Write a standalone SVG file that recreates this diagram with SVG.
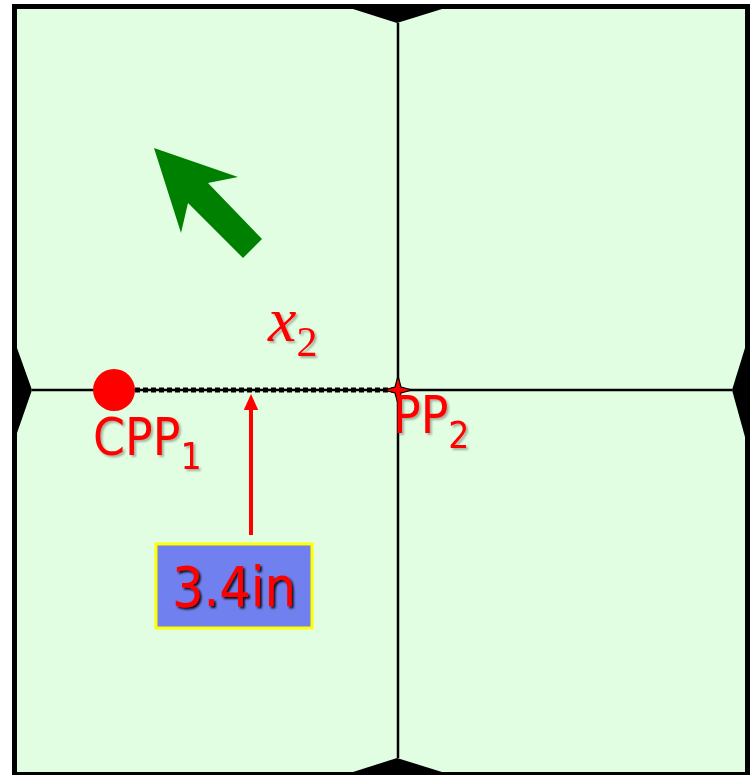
<svg xmlns="http://www.w3.org/2000/svg" width="755" height="775" viewBox="0 0 755 775">
<defs>
<style>
.lbl{font-family:"DejaVu Sans Condensed","DejaVu Sans",sans-serif;fill:#ff0000;}
.math{font-family:"Liberation Serif",serif;fill:#ff0000;}
</style>
<filter id="sh" x="-10%" y="-10%" width="130%" height="130%">
<feDropShadow dx="2" dy="2" stdDeviation="1" flood-color="#000" flood-opacity="0.3"/>
</filter>
<filter id="shd" x="-10%" y="-10%" width="130%" height="130%">
<feDropShadow dx="2" dy="2" stdDeviation="0.8" flood-color="#000" flood-opacity="0.9"/>
</filter>
<marker id="ah" markerWidth="4" markerHeight="3.6" refX="0.5" refY="1.8" orient="auto" markerUnits="strokeWidth">
<path d="M0,0 L4,1.8 L0,3.6 z" fill="#ff0000"/>
</marker>
</defs>
<rect x="0" y="0" width="755" height="775" fill="#ffffff"/>
<g id="frame">
<rect x="14.5" y="6.5" width="733" height="768" fill="#e2fee2" stroke="#000" stroke-width="5"/>
<polygon points="353,9 397,23 442,9" fill="#000"/>
<polygon points="353,772 397,758 442,772" fill="#000"/>
<polygon points="17,348 32,390 17,433" fill="#000"/>
<polygon points="745,348 732,390 745,437" fill="#000"/>
</g>
<g id="connectors">
<line x1="32" y1="390" x2="732" y2="390" stroke="#000" stroke-width="2.5"/>
<line x1="398" y1="23" x2="398" y2="758" stroke="#000" stroke-width="2.5"/>
<line x1="135" y1="390" x2="398" y2="390" stroke="#000" stroke-width="5" stroke-dasharray="5 3"/>
<line x1="251" y1="535" x2="251" y2="408" stroke="#ff0000" stroke-width="4" marker-end="url(#ah)"/>
</g>
<g id="arrow-green">
<polygon points="154,148 238,177 208,183 262,239 243,258 188,203 181,233" fill="#008000"/>
</g>
<g id="cpp1">
<circle cx="114" cy="390" r="21" fill="#ff0000"/>
<text class="lbl" x="93" y="455" font-size="51" filter="url(#sh)">CPP<tspan font-size="37" dy="14">1</tspan></text>
</g>
<g id="pp2">
<polygon points="398,376 401,387 412,390 401,393 398,404 395,393 384,390 395,387" fill="#ff0000" stroke="#000" stroke-width="1.2"/>
<text class="lbl" x="393" y="433" font-size="51" filter="url(#sh)">PP<tspan font-size="37" dy="15">2</tspan></text>
</g>
<g id="x2">
<text class="math" x="268" y="341" font-size="64" font-style="italic" filter="url(#sh)">x<tspan font-style="normal" font-size="42" dy="15">2</tspan></text>
</g>
<g id="box">
<rect x="156" y="544" width="156" height="84" fill="#7180ef" stroke="#ffff00" stroke-width="3"/>
<text class="lbl" x="234" y="606" font-size="55" text-anchor="middle" filter="url(#shd)">3.4in</text>
</g>
</svg>
